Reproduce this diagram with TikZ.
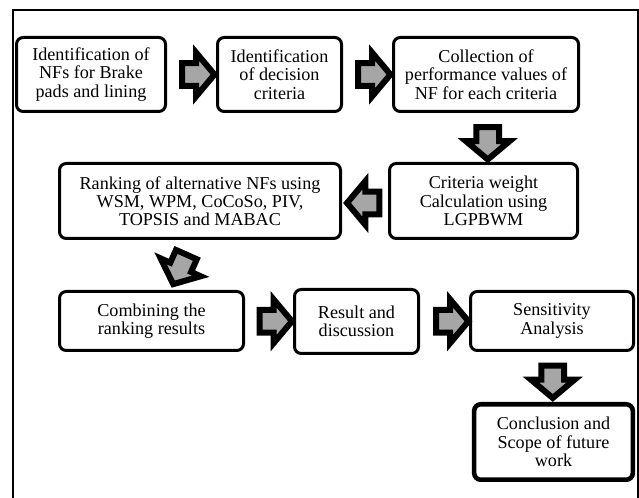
\documentclass[tikz,border=0pt]{standalone}
\usepackage{fontspec}
\setmainfont{Liberation Serif}
\usetikzlibrary{shapes.arrows, calc}

\begin{document}
\begin{tikzpicture}[x = 0.75pt, y = -0.75pt,
    stage/.style = {draw, line width = 2.25pt, rounded corners = 5pt, align = center,
      inner sep = 1pt, font = \fontsize{13.6}{13.7}\selectfont},
    bigarrow/.style = {single arrow, draw, fill = black!35, line width = 4.5pt,
      inner sep = 6.3pt, single arrow head extend = 7.9pt, single arrow tip angle = 100,
      minimum height = 19.5pt}]

      \useasboundingbox (0, 0) rectangle (639, 498);
      \draw[line width = 1.5pt] (13, 498) -- (13, 10) -- (638, 10) -- (638, 498);

      % first row
      \node[stage, minimum width = 111.75pt, minimum height = 55.5pt] (ident) at (91, 74.5)
        {Identification of\\NFs for Brake\\pads and lining};
      \node[stage, minimum width = 93pt, minimum height = 55.5pt] (crit) at (279.5, 74.5)
        {Identification\\of decision\\criteria};
      \node[stage, minimum width = 138.75pt, minimum height = 55.5pt] (collect) at (486, 74.5)
        {Collection of\\performance values of\\NF for each criteria};

      % second row
      \node[stage, minimum width = 141pt, minimum height = 56.25pt] (weight) at (483.5, 201)
        {Criteria weight\\Calculation using\\LGPBWM};
      \node[stage, minimum width = 210.75pt, minimum height = 56.25pt] (rank) at (200, 201)
        {Ranking of alternative NFs using\\WSM, WPM, CoCoSo, PIV,\\TOPSIS and MABAC};

      % third row
      \node[stage, minimum width = 138pt, minimum height = 44.25pt] (combine) at (151.5, 321)
        {Combining the\\ranking results};
      \node[stage, minimum width = 93pt, minimum height = 48pt] (result) at (356.5, 321.5)
        {Result and\\discussion};
      \node[stage, minimum width = 122.25pt, minimum height = 44.25pt] (sens) at (552, 321)
        {Sensitivity\\Analysis};
      \node[stage, line width = 3.4pt, minimum width = 119pt, minimum height = 56.6pt] (concl) at (553.5, 442)
        {Conclusion and\\Scope of future\\work};

      % block arrows
      \node[bigarrow] (arr1) at ($(ident.east)!0.5!(crit.west) + (2, 0)$) {};
      \node[bigarrow] (arr2) at ($(crit.east)!0.5!(collect.west) + (2, 0)$) {};
      \node[bigarrow, rotate = -90] (arr3) at ($(collect.south)!0.5!(weight.north) + (3, 1)$) {};
      \node[bigarrow, rotate = 180] (arr4) at ($(weight.west)!0.5!(rank.east) + (3, 2)$) {};
      \node[bigarrow, rotate = -114] (arr5) at ($(rank.south)!0.5!(combine.north) + (6, 0)$) {};
      \node[bigarrow] (arr6) at ($(combine.east)!0.5!(result.west) + (2, 0)$) {};
      \node[bigarrow] (arr7) at ($(result.east)!0.5!(sens.west) + (3, 0)$) {};
      \node[bigarrow, rotate = -90] (arr8) at ($(sens.south)!0.5!(concl.north)$) {};

    \end{tikzpicture}
\end{document}
